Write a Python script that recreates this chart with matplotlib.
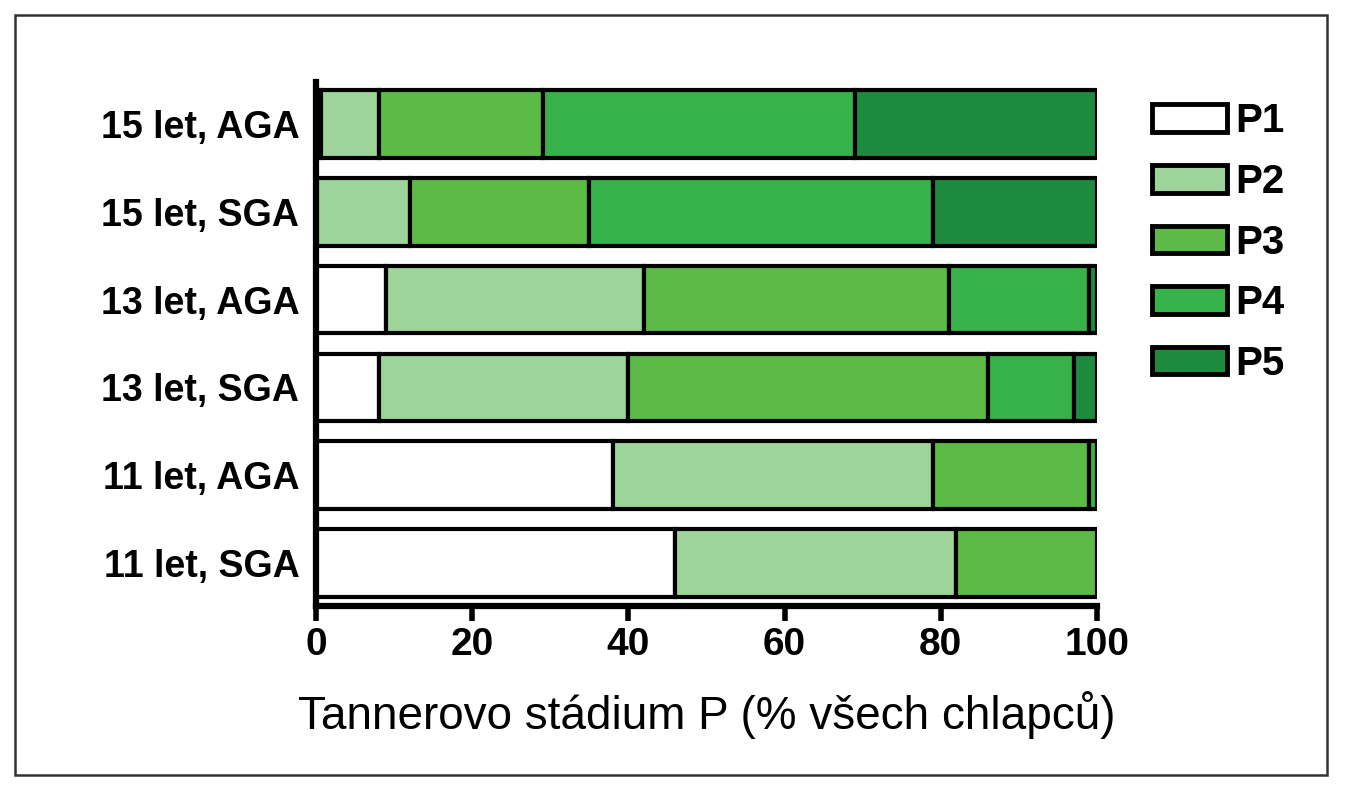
import numpy as np
import matplotlib.pyplot as plt
from matplotlib.patches import Rectangle

plt.rcParams['font.family'] = ['Liberation Sans', 'DejaVu Sans']

# groups from bottom to top
groups = ['11 let, SGA', '11 let, AGA', '13 let, SGA', '13 let, AGA', '15 let, SGA', '15 let, AGA']
stages = ['P1', 'P2', 'P3', 'P4', 'P5']
p1 = [46, 38, 8, 9, 0, 0.6]
p2 = [36, 41, 32, 33, 12, 7.4]
p3 = [18, 20, 46, 39, 23, 21]
p4 = [0, 1, 11, 18, 44, 40]
p5 = [0, 0, 3, 1, 21, 31]
colors = ['#ffffff', '#9ed49a', '#5cba47', '#37b24b', '#1d8a3e']

fig = plt.figure(figsize=(13.49, 8.0), dpi=100)
ax = fig.add_axes([0.2343, 0.2425, 0.5789, 0.655])

y = np.arange(len(groups))
left = np.zeros(len(groups))
handles = []
for name, vals, c in zip(stages, [p1, p2, p3, p4, p5], colors):
    vals = np.array(vals, dtype=float)
    mask = vals > 0
    ax.barh(y[mask], vals[mask], left=left[mask], height=0.77, color=c,
            edgecolor='black', linewidth=3)
    left += vals
    handles.append(Rectangle((0, 0), 1, 1, facecolor=c, edgecolor='black', linewidth=3.5))

ax.set_xlim(0, 100)
ax.set_ylim(-0.49, 5.48)
ax.set_xticks([0, 20, 40, 60, 80, 100])
ax.set_yticks(y)
ax.set_yticklabels(groups, fontsize=27, fontweight='bold')
for lab in ax.get_xticklabels():
    lab.set_fontweight('bold')
ax.tick_params(axis='x', labelsize=28, length=11, width=4, pad=4)
ax.tick_params(axis='y', length=0, pad=12)
ax.set_xlabel('Tannerovo stádium P (% všech chlapců)', fontsize=33, labelpad=20)

for s in ['top', 'right']:
    ax.spines[s].set_visible(False)
ax.spines['left'].set_linewidth(4.5)
ax.spines['bottom'].set_linewidth(4.5)

fig.legend(handles, stages, loc='upper left', bbox_to_anchor=(0.854, 0.872),
           frameon=False, prop={'size': 29, 'weight': 'bold'},
           handlelength=1.85, handleheight=0.68, labelspacing=0.56,
           handletextpad=0.22, borderaxespad=0, borderpad=0)

fig.patches.append(Rectangle((15 / 1349, 25 / 800), 1312 / 1349, 760 / 800,
                             transform=fig.transFigure, fill=False,
                             edgecolor='#333333', linewidth=1.8))

fig.savefig('out.png', dpi=100)
